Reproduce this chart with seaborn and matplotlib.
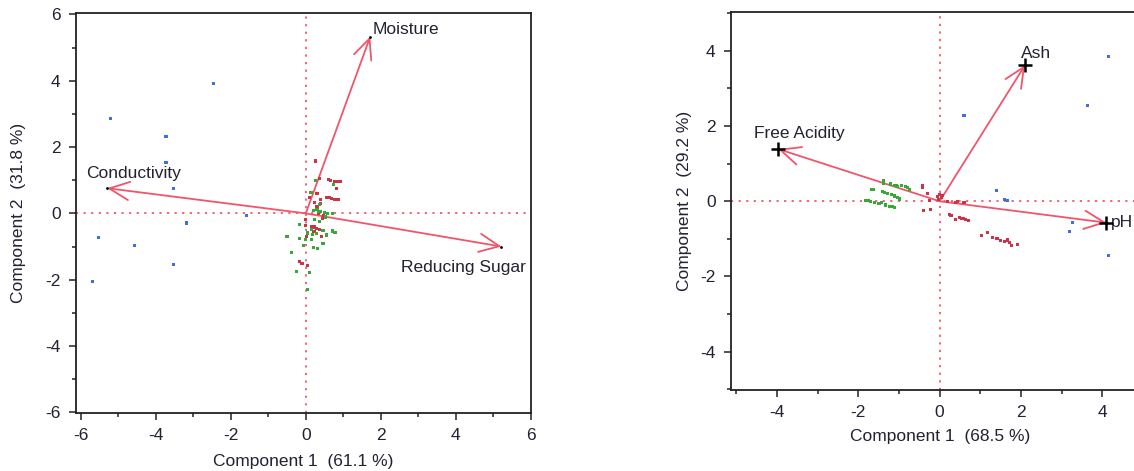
import numpy as np
import pandas as pd
import matplotlib
matplotlib.use("Agg")
import matplotlib.pyplot as plt
import seaborn as sns

sns.set_style("white")
plt.rcParams['font.family'] = ['Liberation Sans', 'DejaVu Sans']
plt.rcParams['font.size'] = 12
plt.rcParams['axes.unicode_minus'] = False

# ---- left biplot (honey set 1) ----
left_blue_x = [-2.45, -5.21, -3.73, -3.73, -3.53, -1.57, -3.17, -5.53, -4.57, -3.53, -5.70]
left_blue_y = [3.91, 2.86, 2.31, 1.54, 0.75, -0.07, -0.29, -0.73, -0.98, -1.54, -2.05]
left_red_x = [0.27, 0.36, 0.60, 0.67, 0.77, 0.86, 0.92, 0.74, 0.81, 0.30, 0.40, 0.39, 0.24,
              0.55, 0.62, 0.69, 0.78, 0.87, 0.35, 0.48, 0.45, -0.01, -0.01, 0.15, 0.24, 0.28,
              0.22, 0.36, 0.42, 0.02, -0.16, -0.10, 0.04, 0.10, 0.30]
left_red_y = [1.58, 1.06, 1.02, 0.98, 0.96, 0.96, 0.95, 0.86, 0.76, 0.59, 0.41, 0.31, 0.34,
              0.49, 0.49, 0.45, 0.41, 0.41, -0.01, -0.07, -0.16, -0.19, -0.37, -0.41, -0.41, -0.45,
              -0.55, -0.49, -0.69, -0.71, -1.46, -1.52, -1.56, 0.47, 0.20]
left_green_x = [0.26, 0.15, 0.36, 0.20, 0.33, 0.39, 0.51, 0.57, 0.71, 0.53, 0.24, 0.36, -0.16,
                0.15, 0.04, 0.18, 0.28, 0.46, 0.55, 0.71, 0.78, -0.50, -0.16, 0.00, 0.15, -0.05,
                0.20, 0.31, 0.44, 0.48, -0.37, -0.25, 0.09, 0.04, 0.14, 0.75, 0.30]
left_green_y = [0.98, 0.64, 0.26, 0.09, 0.06, 0.06, 0.03, -0.01, -0.01, -0.11, -0.19, -0.25, -0.34,
                -0.49, -0.59, -0.64, -0.61, -0.51, -0.65, -0.53, -0.57, -0.69, -0.77, -0.79, -0.79, -0.98,
                -1.02, -1.06, -0.92, -0.90, -1.18, -1.74, -1.78, -2.30, 0.63, 0.87, 0.12]
left_vars = ["Moisture", "Conductivity", "Reducing Sugar"]
left_vec_x = [1.72, -5.30, 5.22]
left_vec_y = [5.33, 0.76, -1.00]

# ---- right biplot (honey set 2) ----
right_blue_x = [4.16, 3.63, 0.60, 1.40, 1.59, 1.67, 3.27, 3.20, 4.16, -1.49]
right_blue_y = [3.85, 2.55, 2.29, 0.29, 0.05, 0.01, -0.57, -0.81, -1.45, -0.07]
right_red_x = [-0.43, -0.43, -0.30, -0.05, 0.00, 0.05, -0.02, 0.08, -0.25, -0.39, -0.23,
               0.20, 0.40, 0.44, 0.60, 0.24, 0.28, 0.38, 0.48, 0.54, 0.59, 0.64, 0.70,
               1.03, 1.18, 1.30, 1.41, 1.49, 1.59, 1.67, 1.71, 1.77, 1.92]
right_red_y = [0.43, 0.37, 0.21, 0.12, 0.18, 0.10, 0.05, 0.15, 0.03, -0.25, -0.21,
               0.00, -0.03, 0.00, -0.04, -0.36, -0.39, -0.48, -0.43, -0.45, -0.46, -0.48, -0.50,
               -0.90, -0.84, -0.96, -1.00, -1.04, -1.06, -1.03, -1.10, -1.17, -1.15]
right_green_x = [-1.39, -1.39, -1.21, -1.11, -1.07, -1.03, -0.93, -0.85, -0.80, -0.73,
                 -1.67, -1.62, -1.40, -1.36, -1.28, -1.19, -1.11, -1.04, -0.99,
                 -1.81, -1.75, -1.69, -1.60, -1.50, -1.44, -1.34, -1.24, -1.15, -1.11]
right_green_y = [0.54, 0.48, 0.46, 0.43, 0.41, 0.39, 0.41, 0.39, 0.36, 0.32,
                 0.32, 0.32, 0.26, 0.23, 0.20, 0.18, 0.14, 0.11, 0.06,
                 0.03, 0.02, -0.01, -0.03, -0.06, -0.03, -0.10, -0.13, -0.15, -0.17]
right_vars = ["Free Acidity", "Ash", "pH"]
right_vec_x = [-3.97, 2.10, 4.10]
right_vec_y = [1.39, 3.62, -0.57]

palette = {"blue": "#3d6fe3", "red": "#cc3347", "green": "#35a835"}
arrow_col = "#f0566a"
txt_col = "#222233"


def make_df(bx, by, rx, ry, gx, gy):
    return pd.concat([
        pd.DataFrame({"x": bx, "y": by, "grp": "blue"}),
        pd.DataFrame({"x": rx, "y": ry, "grp": "red"}),
        pd.DataFrame({"x": gx, "y": gy, "grp": "green"}),
    ], ignore_index=True)


def style_axes(ax):
    for s in ax.spines.values():
        s.set_color("#222222")
        s.set_linewidth(1.3)
    ax.tick_params(which="both", direction="out", color="#222222", labelcolor=txt_col,
                   bottom=True, left=True, top=False, right=False, width=1.1)
    ax.tick_params(which="major", length=5, labelsize=12.5, pad=6)
    ax.tick_params(which="minor", length=3)
    ax.xaxis.set_major_locator(matplotlib.ticker.MultipleLocator(2))
    ax.xaxis.set_minor_locator(matplotlib.ticker.MultipleLocator(1))
    ax.yaxis.set_major_locator(matplotlib.ticker.MultipleLocator(2))
    ax.yaxis.set_minor_locator(matplotlib.ticker.MultipleLocator(1))
    ax.axvline(0, color=arrow_col, lw=1.3, ls=(0, (1.2, 3)), zorder=1)
    ax.axhline(0, color=arrow_col, lw=1.3, ls=(0, (1.2, 3)), zorder=1)


def draw_vectors(ax, vx, vy):
    for x, y in zip(vx, vy):
        ax.annotate("", xy=(x, y), xytext=(0, 0),
                    arrowprops=dict(arrowstyle="->,head_length=1.2,head_width=0.55",
                                    color=arrow_col, lw=1.3, shrinkA=0, shrinkB=0),
                    zorder=3)


fig = plt.figure(figsize=(11.34, 4.71), dpi=100)
ax1 = fig.add_axes([0.067, 0.123, 0.401, 0.850])
ax2 = fig.add_axes([0.6446, 0.172, 0.368, 0.803])

# left
df1 = make_df(left_blue_x, left_blue_y, left_red_x, left_red_y, left_green_x, left_green_y)
sns.scatterplot(data=df1, x="x", y="y", hue="grp", palette=palette, marker="s", s=5,
                linewidth=0, legend=False, ax=ax1, zorder=4)
style_axes(ax1)
draw_vectors(ax1, left_vec_x, left_vec_y)
ax1.plot(left_vec_x, left_vec_y, "k.", ms=2, zorder=5)
ax1.text(left_vec_x[0] + 0.05, left_vec_y[0] + 0.2, left_vars[0], fontsize=12.5, color=txt_col,
         ha="left", va="center")
ax1.text(left_vec_x[1] - 0.55, left_vec_y[1] + 0.22, left_vars[1], fontsize=12.5, color=txt_col,
         ha="left", va="bottom")
ax1.text(left_vec_x[2] + 0.65, left_vec_y[2] - 0.4, left_vars[2], fontsize=12.5, color=txt_col,
         ha="right", va="top")
ax1.set_xlim(-6.13, 6.0)
ax1.set_ylim(-6.02, 6.05)
ax1.set_xlabel("Component 1  (61.1 %)", fontsize=12.5, color=txt_col, labelpad=8)
ax1.set_ylabel("Component 2  (31.8 %)", fontsize=12.5, color=txt_col, labelpad=14)

# right
df2 = make_df(right_blue_x, right_blue_y, right_red_x, right_red_y, right_green_x, right_green_y)
sns.scatterplot(data=df2, x="x", y="y", hue="grp", palette=palette, marker="s", s=5,
                linewidth=0, legend=False, ax=ax2, zorder=4)
style_axes(ax2)
draw_vectors(ax2, right_vec_x, right_vec_y)
ax2.plot(right_vec_x, right_vec_y, "k+", ms=10, mew=1.8, zorder=5)
ax2.text(right_vec_x[0] - 0.6, right_vec_y[0] + 0.22, right_vars[0], fontsize=12.5, color=txt_col,
         ha="left", va="bottom")
ax2.text(right_vec_x[1] - 0.1, right_vec_y[1] + 0.12, right_vars[1], fontsize=12.5, color=txt_col,
         ha="left", va="bottom")
ax2.text(right_vec_x[2] + 0.12, right_vec_y[2], right_vars[2], fontsize=12.5, color=txt_col,
         ha="left", va="center")
ax2.set_xlim(-5.13, 5.13)
ax2.set_ylim(-5.02, 5.04)
ax2.set_xlabel("Component 1  (68.5 %)", fontsize=12.5, color=txt_col, labelpad=6)
ax2.set_ylabel("Component 2  (29.2 %)", fontsize=12.5, color=txt_col, labelpad=6)

fig.savefig("out.png", dpi=100)
